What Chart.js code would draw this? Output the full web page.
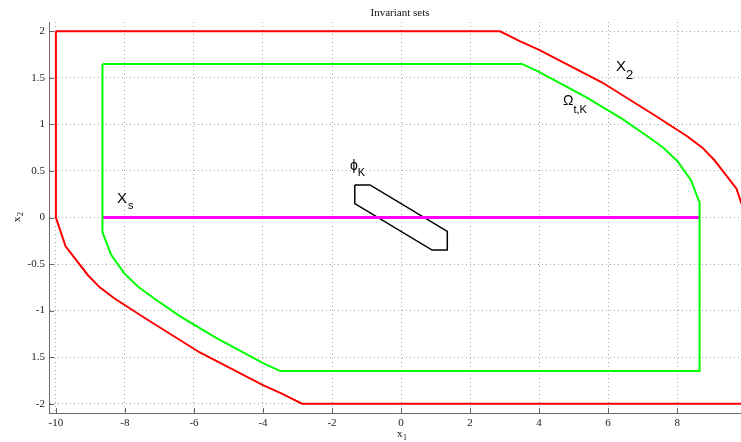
<!DOCTYPE html>
<html>
<head>
<meta charset="utf-8">
<title>Invariant sets</title>
<script src="https://cdn.jsdelivr.net/npm/chart.js@4.4.1/dist/chart.umd.min.js"></script>
<style>
  html, body { margin: 0; padding: 0; background: #fff; overflow: hidden; }
  #wrap { position: relative; width: 741px; height: 442px; }
</style>
</head>
<body>
<div id="wrap"><canvas id="c" width="741" height="442"></canvas></div>
<script>
// State constraint set X_2 (vertices, closed polygon)
const x2X = [-10, 2.87, 3.47, 4.0, 5.83, 7.38, 8.3, 8.73, 9.07, 9.72, 10, 10, -2.87, -3.47, -4.0, -5.83, -7.38, -8.3, -8.73, -9.07, -9.72, -10, -10];
const x2Y = [2, 2, 1.89, 1.80, 1.45, 1.09, 0.87, 0.75, 0.62, 0.31, 0, -2, -2, -1.89, -1.80, -1.45, -1.09, -0.87, -0.75, -0.62, -0.31, 0, 2];

// Invariant set Omega_{t,K}
const omX = [-8.65, 3.5, 3.97, 5.37, 6.41, 7.15, 7.6, 8.02, 8.4, 8.65, 8.65, -3.5, -3.97, -5.37, -6.41, -7.15, -7.6, -8.02, -8.4, -8.65, -8.65];
const omY = [1.65, 1.65, 1.57, 1.29, 1.06, 0.87, 0.75, 0.60, 0.40, 0.16, -1.65, -1.65, -1.57, -1.29, -1.06, -0.87, -0.75, -0.60, -0.40, -0.16, 1.65];

// Steady-state set X_s
const xsX = [-8.65, 8.65];
const xsY = [0, 0];

// Minimal invariant set phi_K
const phiX = [-1.34, -0.9, 1.34, 1.34, 0.9, -1.34, -1.34];
const phiY = [0.35, 0.35, -0.15, -0.35, -0.35, 0.15, 0.35];

// Axis ticks
const xTicks = [-10, -8, -6, -4, -2, 0, 2, 4, 6, 8];
const yTicks = [2, 1.5, 1, 0.5, 0, -0.5, -1, -1.5, -2];
const yTickText = ['2', '1.5', '1', '0.5', '0', '-0.5', '-1', '1.5', '-2'];

const pts = (xs, ys) => xs.map((x, i) => ({ x: x, y: ys[i] }));

const serif = '"Liberation Serif", "Times New Roman", serif';
const sans = '"Liberation Sans", Arial, sans-serif';

// Text labels, tick marks and title
const decor = {
  id: 'decor',
  afterDraw(chart) {
    const ctx = chart.ctx;
    const xs = chart.scales.x, ys = chart.scales.y;
    const a = chart.chartArea;
    ctx.save();
    // inward tick marks
    ctx.strokeStyle = '#666';
    ctx.lineWidth = 1;
    ctx.beginPath();
    xTicks.forEach(v => {
      const p = Math.round(xs.getPixelForValue(v)) + 0.5;
      ctx.moveTo(p, a.bottom); ctx.lineTo(p, a.bottom - 5);
    });
    yTicks.forEach(v => {
      const p = Math.round(ys.getPixelForValue(v)) + 0.5;
      ctx.moveTo(a.left, p); ctx.lineTo(a.left + 5, p);
    });
    ctx.stroke();

    // title
    ctx.fillStyle = '#111';
    ctx.textAlign = 'center';
    ctx.textBaseline = 'alphabetic';
    ctx.font = '11px ' + serif;
    ctx.fillText('Invariant sets', 400, 16);

    // axis labels
    ctx.font = '11px ' + serif;
    ctx.textAlign = 'left';
    ctx.fillText('x', 397, 437);
    ctx.font = '8px ' + serif;
    ctx.fillText('1', 403, 440);
    ctx.save();
    ctx.translate(20, 222);
    ctx.rotate(-Math.PI / 2);
    ctx.font = '11px ' + serif;
    ctx.fillText('x', 0, 0);
    ctx.font = '8px ' + serif;
    ctx.fillText('2', 6, 3);
    ctx.restore();

    // set labels
    ctx.fillStyle = '#000';
    const lab = (main, sub, x, y, mSize, sSize, dx, dy) => {
      ctx.font = mSize + 'px ' + sans;
      ctx.fillText(main, x, y);
      const w = ctx.measureText(main).width;
      ctx.font = sSize + 'px ' + sans;
      ctx.fillText(sub, x + w + dx, y + dy);
    };
    lab('X', '2', 616, 71, 15, 13, 0, 8);
    lab('\u03A9', 't,K', 563, 105, 14, 11, 0, 8);
    lab('\u03D5', 'K', 350, 170, 14, 11, 0, 6);
    lab('X', 's', 117, 203, 15, 11, 1, 6);
    ctx.restore();
  }
};

const ds = (xs, ys, color, width) => ({
  data: pts(xs, ys),
  showLine: true,
  borderColor: color,
  backgroundColor: color,
  borderWidth: width,
  pointRadius: 0,
  fill: false,
  tension: 0,
  borderJoinStyle: 'miter'
});

new Chart(document.getElementById('c'), {
  type: 'scatter',
  data: {
    datasets: [
      ds(x2X, x2Y, '#ff0000', 2),
      ds(omX, omY, '#00ff00', 2),
      ds(xsX, xsY, '#ff00ff', 3),
      ds(phiX, phiY, '#000000', 1.5)
    ]
  },
  options: {
    responsive: false,
    animation: false,
    events: [],
    layout: { padding: { top: 22, left: 0, right: 0, bottom: 0 } },
    plugins: { legend: { display: false }, tooltip: { enabled: false }, title: { display: false } },
    scales: {
      x: {
        type: 'linear',
        min: -10.2,
        max: 9.85,
        afterFit(s) { s.height = 29; },
        afterBuildTicks(s) { s.ticks = xTicks.map(v => ({ value: v })); },
        ticks: {
          includeBounds: false,
          color: '#222',
          font: { family: serif, size: 11 },
          padding: 4,
          maxRotation: 0,
          autoSkip: false
        },
        grid: { color: '#a8a8a8', drawTicks: false, lineWidth: 1 },
        border: { color: '#6a6a6a', width: 1, dash: [1, 3] }
      },
      y: {
        type: 'linear',
        min: -2.1,
        max: 2.1,
        afterFit(s) { s.width = 49; },
        afterBuildTicks(s) { s.ticks = yTicks.map(v => ({ value: v })); },
        ticks: {
          includeBounds: false,
          color: '#222',
          font: { family: serif, size: 11 },
          padding: 4,
          autoSkip: false,
          callback(v) { const i = yTicks.indexOf(v); return i >= 0 ? yTickText[i] : ''; }
        },
        grid: { color: '#a8a8a8', drawTicks: false, lineWidth: 1 },
        border: { color: '#6a6a6a', width: 1, dash: [1, 3] }
      }
    }
  },
  plugins: [decor]
});
</script>
</body>
</html>
